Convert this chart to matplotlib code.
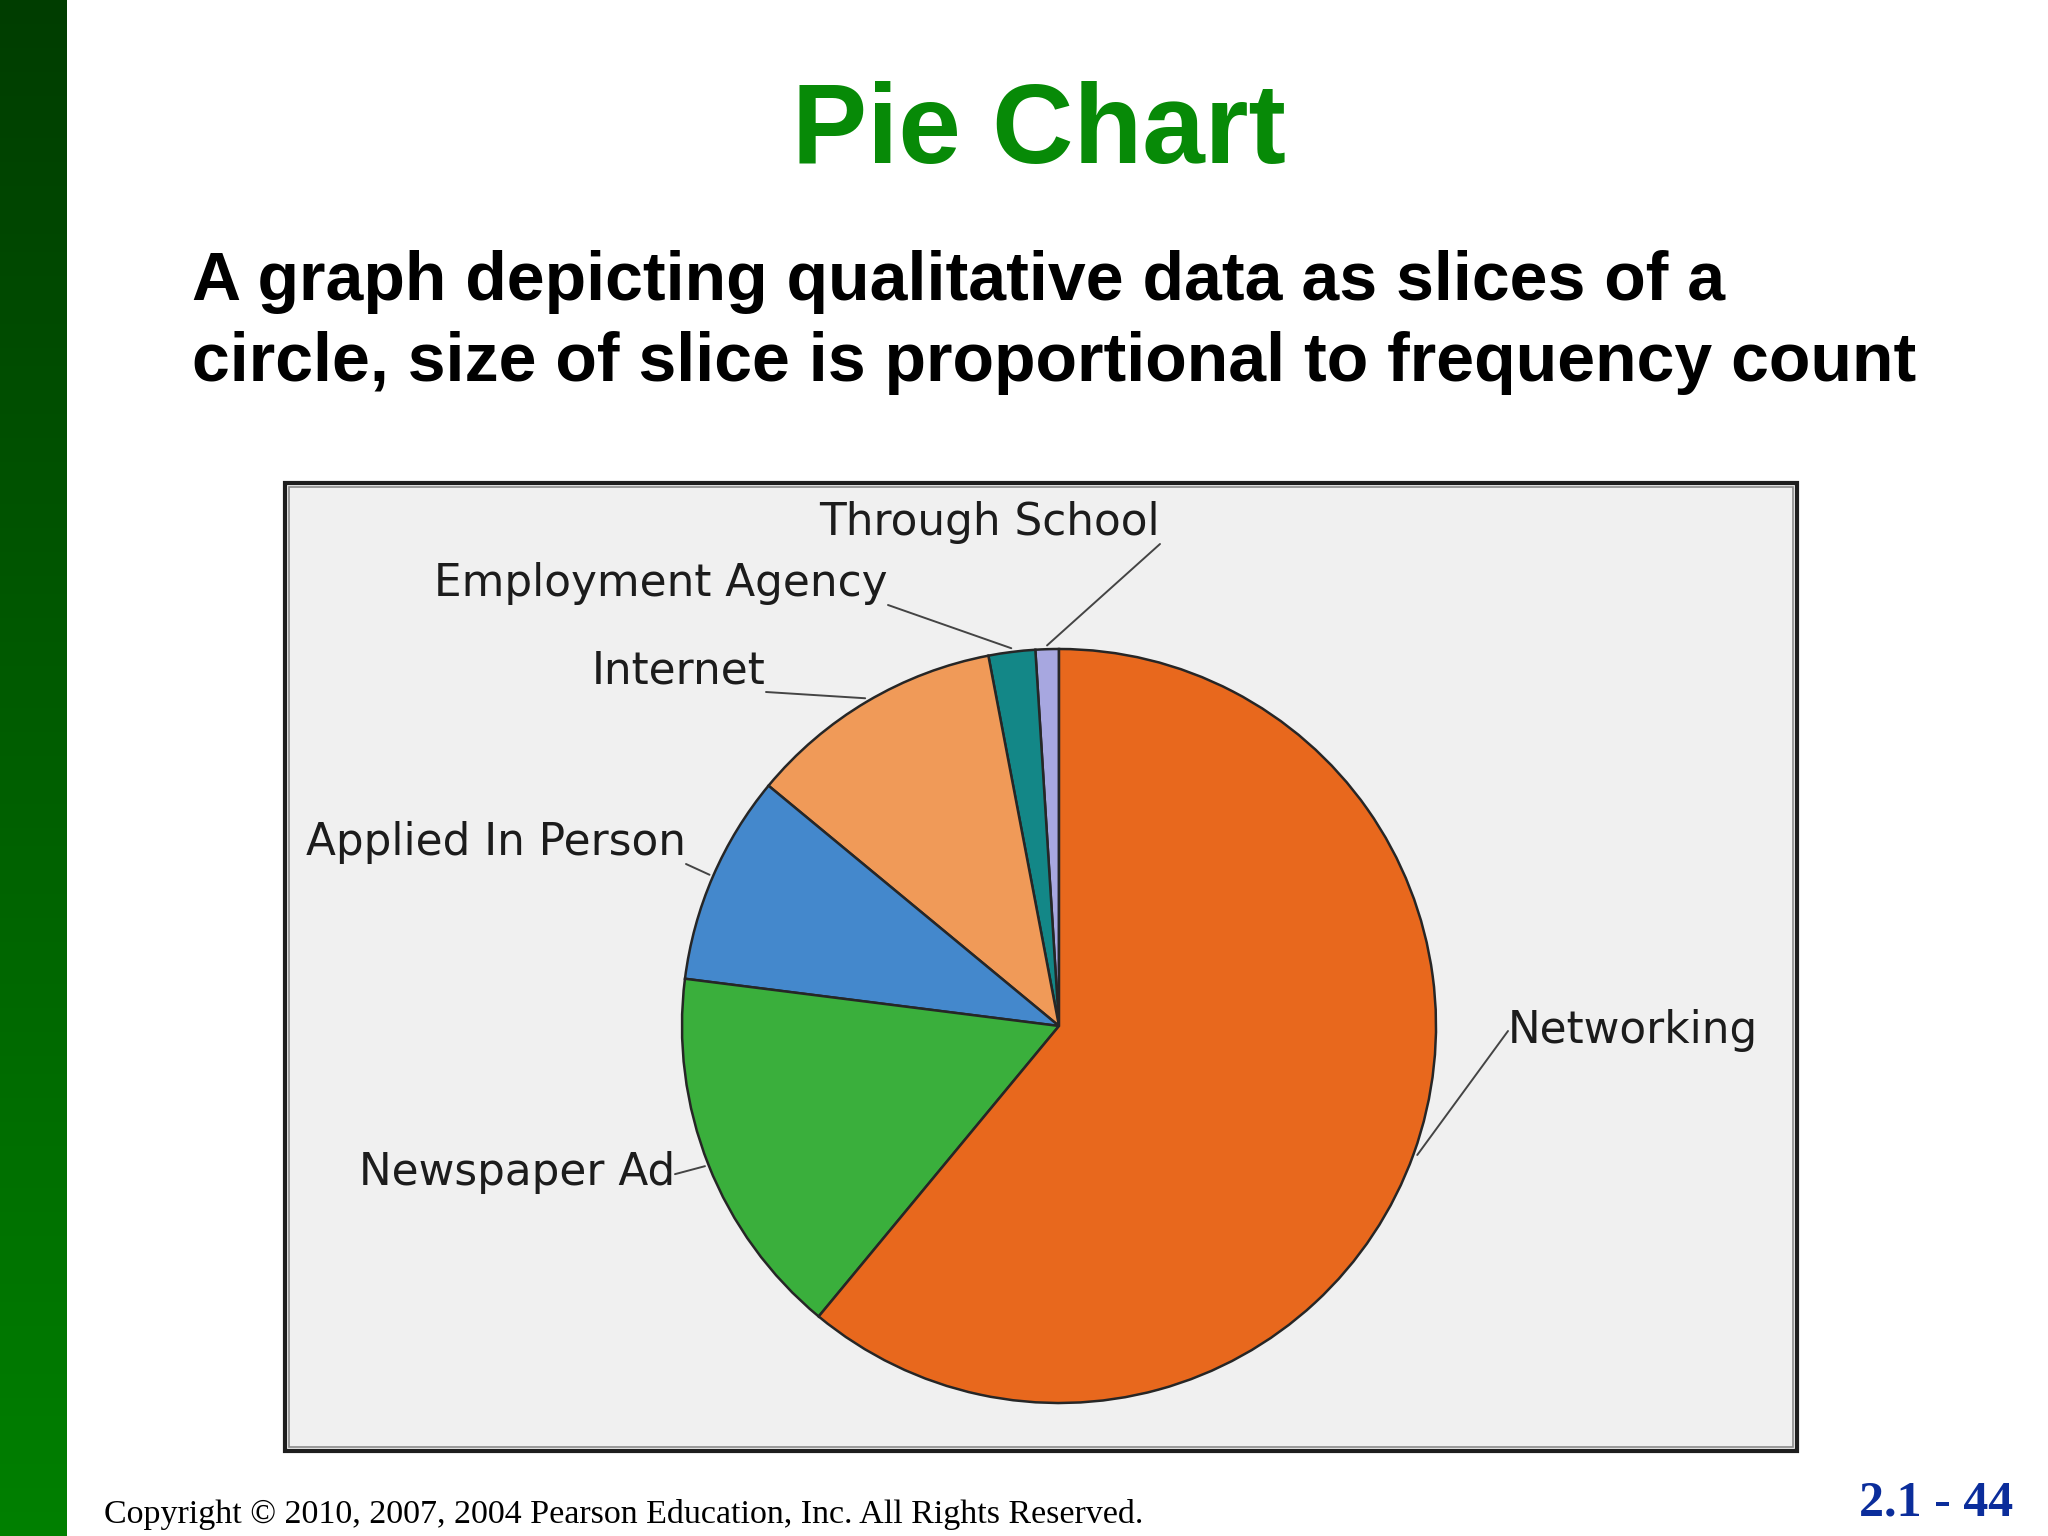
import numpy as np
import matplotlib
matplotlib.use("Agg")
import matplotlib.pyplot as plt
from matplotlib.patches import Rectangle
from matplotlib.colors import LinearSegmentedColormap

# ---- data ----
categories = ["Through School", "Employment Agency", "Internet",
              "Applied In Person", "Newspaper Ad", "Networking"]
values = [1, 2, 11, 9, 16, 61]
colors = ["#a7a7e0", "#138787", "#f09a58", "#4488cc", "#3aaf3c", "#e8681d"]

title_text = "Pie Chart"
subtitle_lines = ["A graph depicting qualitative data as slices of a",
                  "circle, size of slice is proportional to frequency count"]
footer_text = "Copyright \u00a9 2010, 2007, 2004 Pearson Education, Inc. All Rights Reserved."
page_text = "2.1 - 44"

W, H = 2048, 1536
fig = plt.figure(figsize=(W / 100, H / 100), dpi=100)
fig.patch.set_facecolor("white")

def fx(x):
    return x / W

def fy(y):
    return 1 - y / H

# left green gradient bar
bar_ax = fig.add_axes([0, 0, fx(67), 1])
grad = np.linspace(0, 1, 256).reshape(-1, 1)
cmap = LinearSegmentedColormap.from_list("g", ["#003d00", "#008000"])
bar_ax.imshow(grad, aspect="auto", cmap=cmap, extent=[0, 1, 1, 0])
bar_ax.set_axis_off()

# title & subtitle
fig.text(fx(1039), fy(163), title_text, ha="center", va="baseline",
         fontsize=81, fontweight="bold", color="#078a07", family="Liberation Sans")
fig.text(fx(192), fy(300), subtitle_lines[0], ha="left", va="baseline",
         fontsize=49, fontweight="bold", color="black", family="Liberation Sans")
fig.text(fx(192), fy(381), subtitle_lines[1], ha="left", va="baseline",
         fontsize=49, fontweight="bold", color="black", family="Liberation Sans")

# chart box (background axes)
box_ax = fig.add_axes([0, 0, 1, 1], zorder=-5)
box_ax.set_xlim(0, W)
box_ax.set_ylim(H, 0)
box_ax.set_axis_off()
box_ax.add_patch(Rectangle((285, 483), 1797 - 285, 1451 - 483,
                           facecolor="#f0f0f0", edgecolor="#1e1e1e", linewidth=3.0))
box_ax.add_patch(Rectangle((289, 487), 1793 - 289, 1447 - 487,
                           facecolor="none", edgecolor="#8a8a8a", linewidth=1.2))

# pie
cx, cy, R = 1059, 1026, 377
ax = fig.add_axes([fx(cx - R), fy(cy + R), 2 * R / W, 2 * R / H], zorder=2)
wedges, _ = ax.pie(values, colors=colors, startangle=90, counterclock=True,
                   wedgeprops=dict(edgecolor="#262626", linewidth=1.8))
ax.set_xlim(-1, 1)
ax.set_ylim(-1, 1)
ax.set_aspect("equal")
ax.set_axis_off()

# label placement (figure pixels from top) : x, y, ha, va, relpos
label_layout = {
    "Through School": (1160, 544, "right", "bottom", (1.0, 0.0)),
    "Employment Agency": (888, 605, "right", "bottom", (1.0, 0.0)),
    "Internet": (766, 692, "right", "bottom", (1.0, 0.0)),
    "Applied In Person": (686, 864, "right", "bottom", (1.0, 0.0)),
    "Newspaper Ad": (675, 1172, "right", "center", (1.0, 0.45)),
    "Networking": (1508, 1031, "left", "center", (0.0, 0.5)),
}

for w, name in zip(wedges, categories):
    theta = np.deg2rad((w.theta1 + w.theta2) / 2)
    px, py = 1.01 * np.cos(theta), 1.01 * np.sin(theta)
    x, y, ha, va, rp = label_layout[name]
    ax.annotate(name, xy=(px, py), xycoords="data",
                xytext=(x, H - y), textcoords="figure pixels",
                ha=ha, va=va, fontsize=31.5, color="#1c1c1c",
                family="DejaVu Sans",
                arrowprops=dict(arrowstyle="-", color="#444444", lw=1.4,
                                shrinkA=0, shrinkB=0, patchA=None,
                                relpos=rp),
                annotation_clip=False)

# footer
fig.text(fx(104), fy(1523), footer_text, ha="left", va="baseline",
         fontsize=24.5, color="black", family="Liberation Serif")
fig.text(fx(2013), fy(1516), page_text, ha="right", va="baseline",
         fontsize=36, fontweight="bold", color="#0b2d9b", family="Liberation Serif")

fig.savefig("out.png", dpi=100, facecolor="white")
